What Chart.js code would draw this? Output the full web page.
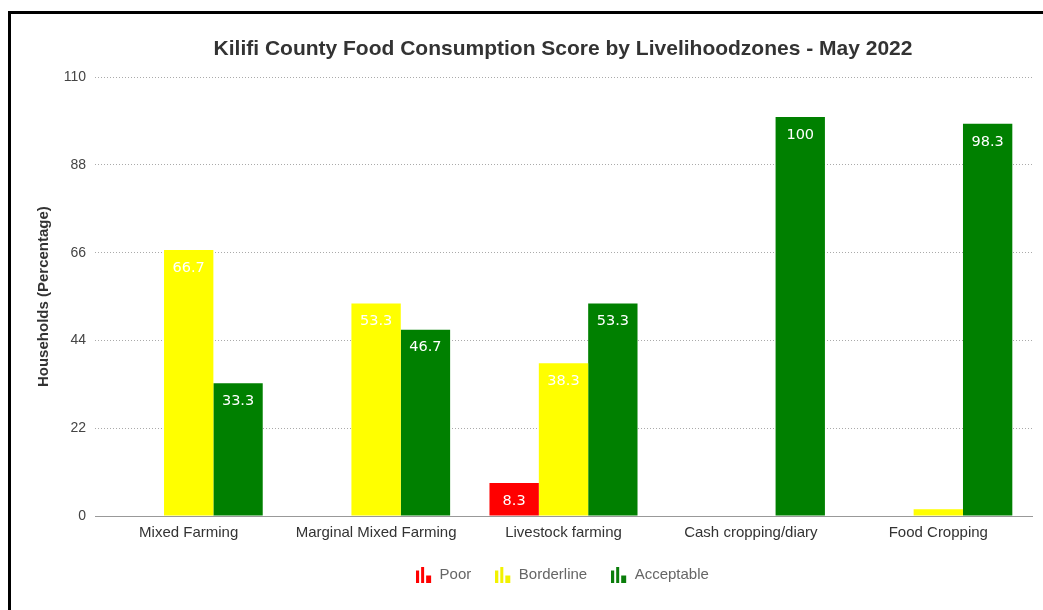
<!DOCTYPE html>
<html>
<head>
<meta charset="utf-8">
<script src="https://cdn.jsdelivr.net/npm/chart.js@4/dist/chart.umd.min.js"></script>
<style>
    html, body { margin: 0; padding: 0; background: #fff; overflow: hidden; }
    .frame {
        position: absolute;
        left: 8px;
        top: 11px;
        width: 1200px;
        height: 700px;
        border-left: 3px solid #000;
        border-top: 3px solid #000;
    }
    canvas { display: block; }
</style>
</head>
<body>
<div class="frame">
    <canvas id="fcsChart" width="1084" height="596"></canvas>
</div>
<script>
// Data
const zones = ['Mixed Farming', 'Marginal Mixed Farming', 'Livestock farming', 'Cash cropping/diary', 'Food Cropping'];
const poor = [0, 0, 8.3, 0, 0];
const borderline = [66.7, 53.3, 38.3, 0, 1.7];
const acceptable = [33.3, 46.7, 53.3, 100, 98.3];
const yTicks = [0, 22, 44, 66, 88, 110];

const FONT = '"Liberation Sans", Arial, sans-serif';

// little bar-chart glyph used as the legend marker
function barIcon(color) {
    const c = document.createElement('canvas');
    c.width = 17;
    c.height = 16;
    const g = c.getContext('2d');
    g.fillStyle = color;
    g.fillRect(0, 4, 3, 12);
    g.fillRect(5, 0, 3, 16);
    g.fillRect(10, 9, 5, 7);
    return c;
}

// white value labels inside the top of each bar
const valueLabels = {
    id: 'valueLabels',
    afterDatasetsDraw(chart) {
        const ctx = chart.ctx;
        ctx.save();
        ctx.font = '14.5px "DejaVu Sans"';
        ctx.fillStyle = '#ffffff';
        ctx.textAlign = 'center';
        ctx.textBaseline = 'middle';
        chart.data.datasets.forEach((ds, i) => {
            const meta = chart.getDatasetMeta(i);
            meta.data.forEach((bar, j) => {
                const v = ds.data[j];
                if (v < 5) return;
                ctx.fillText(String(v), bar.x, bar.y + 18);
            });
        });
        ctx.restore();
    }
};

const ctx = document.getElementById('fcsChart').getContext('2d');
const fcsChart = new Chart(ctx, {
    type: 'bar',
    data: {
        labels: zones,
        datasets: [
            { label: 'Poor', data: poor, backgroundColor: '#ff0000', pointStyle: barIcon('#ff0000') },
            { label: 'Borderline', data: borderline, backgroundColor: '#ffff00', pointStyle: barIcon('#f2f200') },
            { label: 'Acceptable', data: acceptable, backgroundColor: '#008000', pointStyle: barIcon('#0a7d0a') }
        ]
    },
    options: {
        responsive: false,
        devicePixelRatio: 1,
        animation: false,
        categoryPercentage: 0.79,
        barPercentage: 1,
        layout: {
            padding: { left: 20, right: 0, top: 0, bottom: 18 }
        },
        plugins: {
            title: {
                display: true,
                text: 'Kilifi County Food Consumption Score by Livelihoodzones - May 2022',
                color: '#333333',
                font: { family: FONT, size: 21, weight: 'bold' },
                padding: { top: 23, bottom: 15 }
            },
            legend: {
                position: 'bottom',
                labels: {
                    usePointStyle: true,
                    color: '#666666',
                    padding: 25,
                    font: { family: FONT, size: 15 }
                }
            },
            tooltip: { enabled: false }
        },
        scales: {
            x: {
                grid: { display: false },
                border: { display: true, color: '#999999', width: 1 },
                ticks: {
                    color: '#333333',
                    padding: 0,
                    font: { family: FONT, size: 15 }
                }
            },
            y: {
                min: 0,
                max: 110,
                afterBuildTicks(axis) {
                    axis.ticks = yTicks.map(v => ({ value: v }));
                },
                afterFit(axis) { axis.width = 64; },
                border: { display: false, dash: [1, 2] },
                grid: { color: '#aaaaaa', drawTicks: false },
                ticks: {
                    color: '#444444',
                    padding: 9,
                    font: { family: FONT, size: 14 }
                },
                title: {
                    display: true,
                    text: 'Households (Percentage)',
                    color: '#333333',
                    padding: { top: 4, bottom: 0 },
                    font: { family: FONT, size: 15, weight: 'bold' }
                }
            },
            // empty right-hand spacer so the title and legend sit centred over the plot
            spacer: {
                type: 'linear',
                position: 'right',
                display: true,
                grid: { display: false },
                border: { display: false },
                ticks: { display: false },
                afterFit(axis) { axis.width = 63; }
            }
        }
    },
    plugins: [valueLabels]
});
</script>
</body>
</html>
